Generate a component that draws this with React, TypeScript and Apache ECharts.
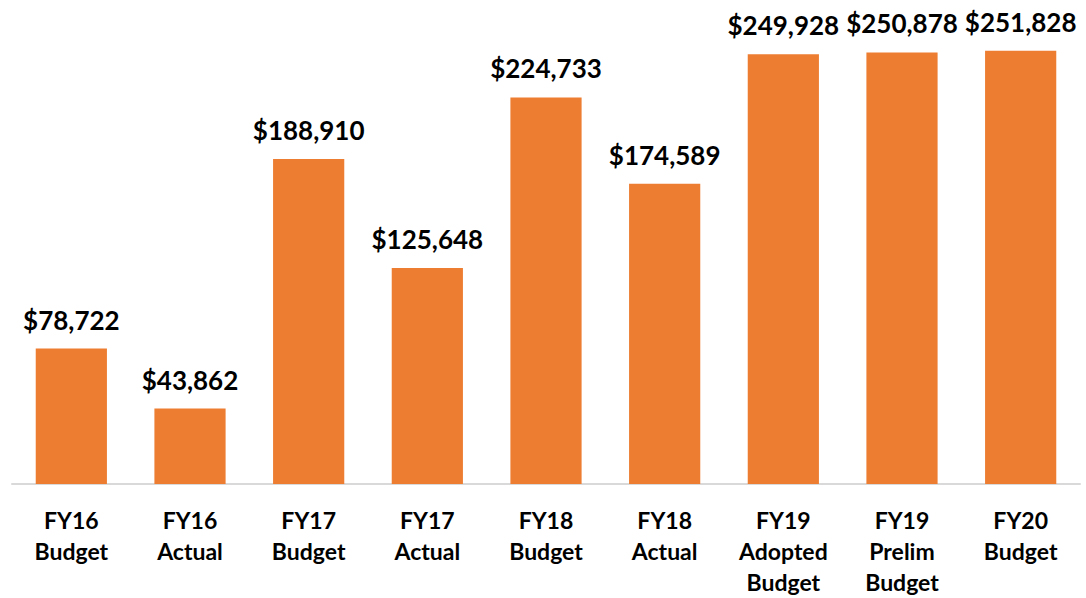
import React, { useEffect, useRef } from "react";
import * as echarts from "echarts";

const categories = [
  "FY16\nBudget",
  "FY16\nActual",
  "FY17\nBudget",
  "FY17\nActual",
  "FY18\nBudget",
  "FY18\nActual",
  "FY19\nAdopted\nBudget",
  "FY19\nPrelim\nBudget",
  "FY20\nBudget",
];
const values = [78722, 43862, 188910, 125648, 224733, 174589, 249928, 250878, 251828];

export default function App() {
  const ref = useRef<HTMLDivElement>(null);
  useEffect(() => {
    document.body.style.margin = "0";
    const chart = echarts.init(ref.current!, undefined, { renderer: "svg" });
    chart.setOption({
      animation: false,
      grid: { left: 12, right: 6, top: 0, bottom: 114, containLabel: false },
      xAxis: {
        type: "category",
        data: categories,
        axisLine: { lineStyle: { color: "#D9D9D9", width: 2 } },
        axisTick: { show: false },
        axisLabel: {
          interval: 0,
          margin: 20,
          color: "#000",
          fontFamily: "Lato",
          fontWeight: "bold",
          fontSize: 23,
          lineHeight: 31,
        },
      },
      yAxis: {
        type: "value",
        min: 0,
        max: 281400,
        show: false,
        splitLine: { show: false },
      },
      series: [
        {
          type: "bar",
          data: values,
          barCategoryGap: "40%",
          itemStyle: { color: "#ED7D31" },
          label: {
            show: true,
            position: "top",
            distance: 14,
            color: "#000",
            fontFamily: "Lato",
            fontWeight: "bold",
            fontSize: 26,
            lineHeight: 30,
            formatter: (p: any) => "$" + Number(p.value).toLocaleString("en-US"),
          },
        },
      ],
    });
    return () => chart.dispose();
  }, []);
  return <div ref={ref} style={{ width: 1086, height: 598 }} />;
}
